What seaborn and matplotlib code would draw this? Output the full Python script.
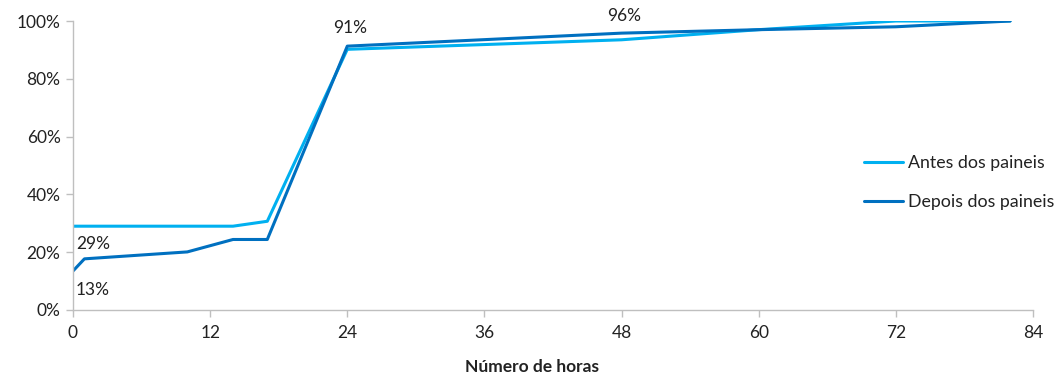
import matplotlib
matplotlib.use("Agg")
import matplotlib.pyplot as plt
import seaborn as sns
import pandas as pd
from matplotlib.ticker import FuncFormatter

# Cumulative share of cases over time (hours), before and after the panels
horas_antes = [0, 14, 17, 24, 48, 60, 72, 82]
antes = [29, 29, 30.7, 90.2, 93.5, 97, 100, 100]

horas_depois = [0, 1, 10, 14, 17, 24, 48, 60, 72, 82]
depois = [13.5, 17.7, 20.1, 24.4, 24.4, 91.3, 95.8, 97, 98, 100]

serie_antes = "Antes dos paineis"
serie_depois = "Depois dos paineis"

x_ticks = [0, 12, 24, 36, 48, 60, 72, 84]
y_ticks = [0, 20, 40, 60, 80, 100]

# Value labels: (hour, value, text, vertical offset in points)
rotulos = [
    (horas_antes[0], antes[0], "29%", -13),
    (horas_depois[0], depois[0], "13%", -14),
    (horas_depois[5], depois[5], "91%", 13),
    (horas_depois[6], depois[6], "96%", 12),
]

df = pd.concat([
    pd.DataFrame({"horas": horas_antes, "pct": antes, "serie": serie_antes}),
    pd.DataFrame({"horas": horas_depois, "pct": depois, "serie": serie_depois}),
])

sns.set_theme(style="white")
plt.rcParams["font.family"] = ["Lato", "DejaVu Sans"]

fig = plt.figure(figsize=(10.64, 3.81), dpi=100)
ax = fig.add_axes([73 / 1064, 1 - 310 / 381, 960 / 1064, 289 / 381])

sns.lineplot(
    data=df, x="horas", y="pct", hue="serie",
    palette={serie_antes: "#00B0F0", serie_depois: "#0070C0"},
    linewidth=2.2, ax=ax, legend=True, sort=False,
)

ax.set_xlim(0, 84)
ax.set_ylim(0, 100)
ax.set_xticks(x_ticks)
ax.set_yticks(y_ticks)
ax.yaxis.set_major_formatter(FuncFormatter(lambda v, _: f"{v:.0f}%"))

for s in ["top", "right"]:
    ax.spines[s].set_visible(False)
for s in ["left", "bottom"]:
    ax.spines[s].set_color("#BFBFBF")
    ax.spines[s].set_linewidth(1)

ax.tick_params(axis="both", which="major", length=5, width=1, color="#BFBFBF",
               labelsize=12.5, labelcolor="#222222", direction="out")
ax.tick_params(axis="x", pad=6)
ax.tick_params(axis="y", pad=4)
ax.xaxis.set_ticks_position("bottom")
ax.yaxis.set_ticks_position("left")

ax.set_ylabel("")
ax.set_xlabel("Número de horas", fontsize=12.5, fontweight="bold", color="#222222")
ax.xaxis.set_label_coords(0.478, -0.17)

for hx, hy, txt, dy in rotulos:
    ax.annotate(txt, (hx, hy), xytext=(2, dy), textcoords="offset points",
                ha="left" if hx == 0 else "center", va="center",
                fontsize=12.5, color="#222222", annotation_clip=False)

leg = ax.legend(loc="upper left", bbox_to_anchor=(0.824, 0.535), frameon=False,
                fontsize=12.8, handlelength=2.2, handletextpad=0.25, labelspacing=1.3,
                borderaxespad=0, borderpad=0)
for t in leg.get_texts():
    t.set_color("#222222")

fig.savefig("out.png", dpi=100)
